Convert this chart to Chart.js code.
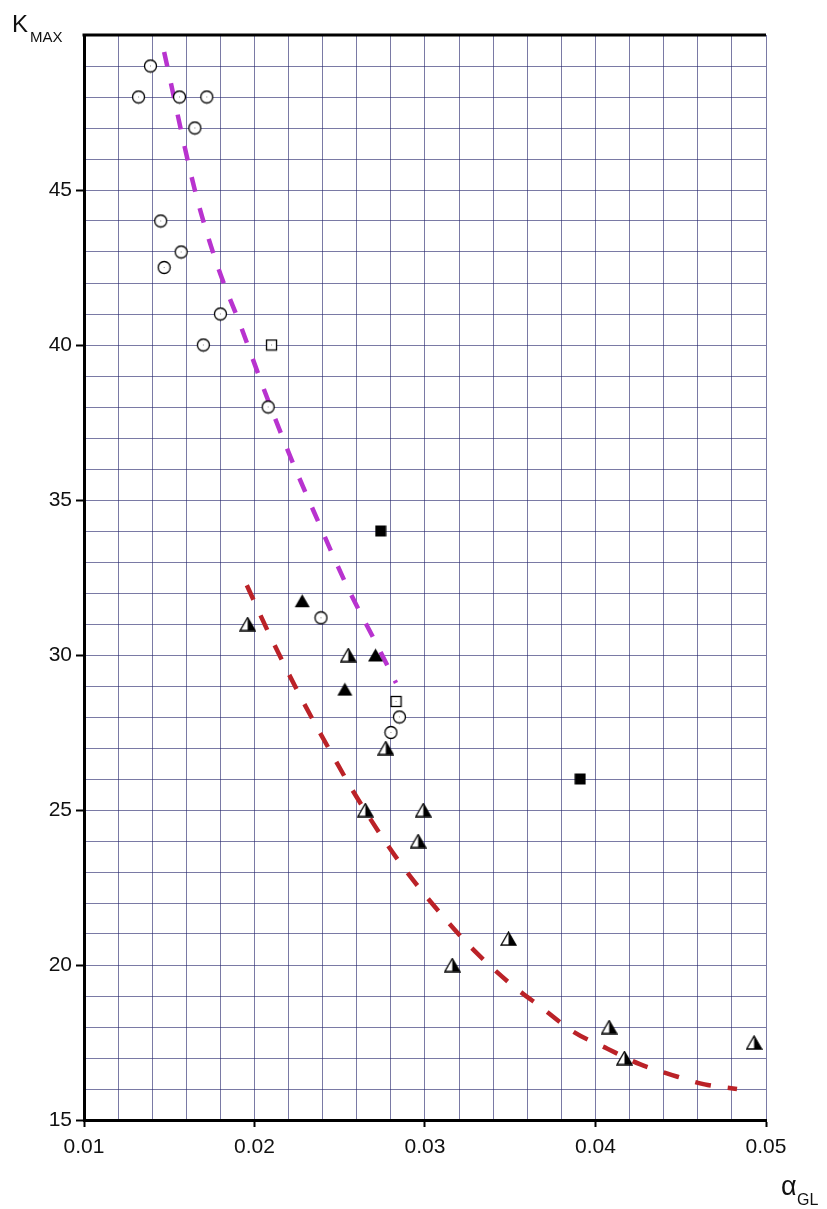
<!DOCTYPE html>
<html>
<head>
<meta charset="utf-8">
<title>K max vs alpha GL</title>
<script src="https://cdn.jsdelivr.net/npm/chart.js@4/dist/chart.umd.min.js"></script>
<style>
  html, body { margin: 0; padding: 0; background: #fff; }
  #chart { display: block; }
</style>
</head>
<body>
<canvas id="chart" width="827" height="1209"></canvas>
<script>
// --- data -------------------------------------------------------------
const openCircleX = [0.0139, 0.0132, 0.0156, 0.0172, 0.0165, 0.0145, 0.0157, 0.0147, 0.0180, 0.0170, 0.0208, 0.0239, 0.0285, 0.0280];
const openCircleY = [49, 48, 48, 48, 47, 44, 43, 42.5, 41, 40, 38, 31.2, 28, 27.5];

const openSquareX = [0.0210, 0.0283];
const openSquareY = [40, 28.5];

const filledSquareX = [0.0274, 0.0391];
const filledSquareY = [34, 26];

const filledTriangleX = [0.0228, 0.0253, 0.0271];
const filledTriangleY = [31.75, 28.9, 30];

const halfTriangleX = [0.0196, 0.0255, 0.0277, 0.0265, 0.0299, 0.0296, 0.0349, 0.0316, 0.0408, 0.0417, 0.0493];
const halfTriangleY = [31, 30, 27, 25, 25, 24, 20.85, 20, 18, 17, 17.5];

// fitted trend curves
const upperCurveX = [0.0147, 0.0165, 0.0178, 0.0192, 0.0206, 0.0221, 0.0237, 0.0254, 0.0273, 0.0283];
const upperCurveY = [49.45, 45, 42.6, 40.6, 38.5, 36.4, 34.35, 32.25, 30.2, 29.1];

const lowerCurveX = [0.01955, 0.0208, 0.0227, 0.0247, 0.0259, 0.0284, 0.0314, 0.0331, 0.0350, 0.0369, 0.0387, 0.0407, 0.0426, 0.0445, 0.0464, 0.0483];
const lowerCurveY = [32.25, 30.75, 28.65, 26.65, 25.5, 23.4, 21.35, 20.35, 19.4, 18.6, 17.85, 17.3, 16.8, 16.45, 16.15, 16.0];

const xTicks = [0.01, 0.02, 0.03, 0.04, 0.05];
const yTicks = [15, 20, 25, 30, 35, 40, 45];

const toPoints = (xs, ys) => xs.map((x, i) => ({ x, y: ys[i] }));

// --- marker images ----------------------------------------------------
function makeMarker(w, h, draw) {
  const c = document.createElement("canvas");
  c.width = w;
  c.height = h;
  const ctx = c.getContext("2d");
  ctx.lineWidth = 1.3;
  ctx.strokeStyle = "#000";
  draw(ctx, w, h);
  return c;
}

const circleMarker = makeMarker(15, 15, (ctx) => {
  ctx.beginPath();
  ctx.arc(7.5, 7.5, 6, 0, Math.PI * 2);
  ctx.fillStyle = "#fff";
  ctx.fill();
  ctx.stroke();
  ctx.fillStyle = "#888";
  ctx.fillRect(7, 7, 1, 1);
});

const openSquareMarker = makeMarker(13, 13, (ctx) => {
  ctx.fillStyle = "#fff";
  ctx.fillRect(1.5, 1.5, 10, 10);
  ctx.strokeRect(1.5, 1.5, 10, 10);
  ctx.fillStyle = "#888";
  ctx.fillRect(6, 6, 1, 1);
});

const filledSquareMarker = makeMarker(12, 12, (ctx) => {
  ctx.fillStyle = "#000";
  ctx.fillRect(0.5, 0.5, 11, 11);
});

const filledTriangleMarker = makeMarker(17, 15, (ctx) => {
  ctx.beginPath();
  ctx.moveTo(8.5, 1);
  ctx.lineTo(16, 14);
  ctx.lineTo(1, 14);
  ctx.closePath();
  ctx.fillStyle = "#000";
  ctx.fill();
});

// left half open, right half solid
const halfTriangleMarker = makeMarker(17, 15, (ctx) => {
  ctx.beginPath();
  ctx.moveTo(8.5, 1);
  ctx.lineTo(16, 14);
  ctx.lineTo(1, 14);
  ctx.closePath();
  ctx.fillStyle = "#fff";
  ctx.fill();
  ctx.beginPath();
  ctx.moveTo(8.5, 1);
  ctx.lineTo(16, 14);
  ctx.lineTo(8.5, 14);
  ctx.closePath();
  ctx.fillStyle = "#000";
  ctx.fill();
  ctx.beginPath();
  ctx.moveTo(8.5, 1);
  ctx.lineTo(16, 14);
  ctx.lineTo(1, 14);
  ctx.closePath();
  ctx.stroke();
});

// --- extra drawing: top frame line and axis names ---------------------
const frameAndNames = {
  id: "frameAndNames",
  afterDraw(chart) {
    const { ctx, chartArea: a } = chart;
    ctx.save();
    ctx.strokeStyle = "#000";
    ctx.lineWidth = 3;
    ctx.beginPath();
    ctx.moveTo(a.left - 1.5, a.top);
    ctx.lineTo(a.right, a.top);
    ctx.stroke();

    ctx.fillStyle = "#111";
    ctx.textBaseline = "alphabetic";
    ctx.textAlign = "left";
    ctx.font = "24px 'Liberation Sans', Arial, sans-serif";
    ctx.fillText("K", a.left - 72, a.top - 3);
    ctx.font = "15px 'Liberation Sans', Arial, sans-serif";
    ctx.fillText("MAX", a.left - 54, a.top + 7);

    ctx.font = "27px 'Liberation Sans', Arial, sans-serif";
    ctx.fillText("α", a.right + 15, a.bottom + 75);
    ctx.font = "16px 'Liberation Sans', Arial, sans-serif";
    ctx.fillText("GL", a.right + 31, a.bottom + 85);
    ctx.restore();
  },
};

const isMajor = (v, list) => list.some((t) => Math.abs(t - v) < 1e-9);
const gridColor = "rgba(40, 40, 110, 0.62)";

Chart.defaults.font.family = "'Liberation Sans', Arial, sans-serif";
Chart.defaults.color = "#111";

new Chart(document.getElementById("chart"), {
  type: "scatter",
  data: {
    datasets: [
      {
        data: toPoints(openCircleX, openCircleY),
        pointStyle: circleMarker,
      },
      {
        data: toPoints(openSquareX, openSquareY),
        pointStyle: openSquareMarker,
      },
      {
        data: toPoints(filledSquareX, filledSquareY),
        pointStyle: filledSquareMarker,
      },
      {
        data: toPoints(filledTriangleX, filledTriangleY),
        pointStyle: filledTriangleMarker,
      },
      {
        data: toPoints(halfTriangleX, halfTriangleY),
        pointStyle: halfTriangleMarker,
      },
      {
        type: "line",
        data: toPoints(upperCurveX, upperCurveY),
        borderColor: "#b833cf",
        borderWidth: 4.5,
        borderDash: [15, 17],
        cubicInterpolationMode: "monotone",
        pointRadius: 0,
        fill: false,
      },
      {
        type: "line",
        data: toPoints(lowerCurveX, lowerCurveY),
        borderColor: "#bb2228",
        borderWidth: 4.5,
        borderDash: [16, 17],
        cubicInterpolationMode: "monotone",
        pointRadius: 0,
        fill: false,
      },
    ],
  },
  options: {
    responsive: false,
    animation: false,
    devicePixelRatio: 1,
    layout: { padding: { left: 0, right: 61, top: 35, bottom: 0 } },
    plugins: {
      legend: { display: false },
      tooltip: { enabled: false },
    },
    scales: {
      x: {
        type: "linear",
        min: 0.01,
        max: 0.05,
        afterFit: (scale) => { scale.height = 89; },
        border: { color: "#000", width: 3 },
        grid: {
          color: gridColor,
          lineWidth: 1,
          tickLength: 7,
          tickWidth: 2,
          tickColor: (c) => (isMajor(c.tick.value, xTicks) ? "#000" : "rgba(0,0,0,0)"),
        },
        ticks: {
          stepSize: 0.002,
          autoSkip: false,
          maxRotation: 0,
          padding: 8,
          font: { size: 21 },
          callback: (v) => (isMajor(v, xTicks) ? v.toFixed(2) : ""),
        },
      },
      y: {
        type: "linear",
        min: 15,
        max: 50,
        afterFit: (scale) => { scale.width = 84; },
        border: { color: "#000", width: 3 },
        grid: {
          color: gridColor,
          lineWidth: 1,
          tickLength: 8,
          tickWidth: 2,
          tickColor: (c) => (isMajor(c.tick.value, yTicks) ? "#000" : "rgba(0,0,0,0)"),
        },
        ticks: {
          stepSize: 1,
          autoSkip: false,
          padding: 4,
          font: { size: 21 },
          callback: (v) => (isMajor(v, yTicks) ? String(v) : ""),
        },
      },
    },
  },
  plugins: [frameAndNames],
});
</script>
</body>
</html>
